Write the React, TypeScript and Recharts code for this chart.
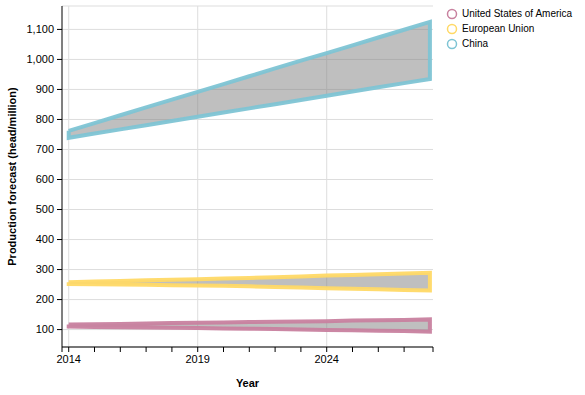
import {
  CartesianGrid,
  ComposedChart,
  Area,
  Scatter,
  XAxis,
  YAxis,
  Label,
} from "recharts";

const years = [2014, 2015, 2016, 2017, 2018, 2019, 2020, 2021, 2022, 2023, 2024, 2025, 2026, 2027, 2028];

const usaHigh = [117, 118, 119, 120, 122, 123, 124, 125, 126, 127, 128, 130, 131, 132, 134];
const usaLow = [110, 109, 108, 107, 106, 105, 104, 103, 102, 100, 99, 98, 96, 95, 93];
const euHigh = [258, 260, 262, 264, 266, 268, 270, 272, 274, 277, 280, 282, 284, 287, 289];
const euLow = [252, 251, 250, 249, 248, 247, 246, 244, 242, 240, 238, 236, 234, 232, 230];
const cnHigh = [762, 788, 814, 840, 866, 892, 918, 944, 970, 996, 1021, 1047, 1073, 1099, 1125];
const cnLow = [739, 753, 767, 781, 795, 809, 823, 837, 851, 865, 879, 893, 907, 921, 935];

const yTicks = [100, 200, 300, 400, 500, 600, 700, 800, 900, 1000, 1100];
const labelYears = [2014, 2019, 2024];

const FONT = "'Liberation Sans', Arial, sans-serif";

const countries = [
  { key: "usa", name: "United States of America", color: "#c8819f", low: usaLow, high: usaHigh },
  { key: "eu", name: "European Union", color: "#ffd966", low: euLow, high: euHigh },
  { key: "cn", name: "China", color: "#7ec4d4", low: cnLow, high: cnHigh },
];

const rows = years.map((year, i) => {
  const row: Record<string, number> = { year };
  countries.forEach((c) => {
    row[c.key + "Low"] = c.low[i];
    row[c.key + "High"] = c.high[i];
  });
  return row;
});

// closed outline: along the top, back along the bottom, then close
const outline = (low: number[], high: number[]) => {
  const top = years.map((year, i) => ({ year, v: high[i] }));
  const bottom = years.map((year, i) => ({ year, v: low[i] })).reverse();
  return [...top, ...bottom, top[0]];
};

const xDomain = [2013.74, 2028.12];
const xTicks = [xDomain[0], ...years.slice(0, 14), xDomain[1]];

const noDot = () => <g />;

export default function App() {
  return (
    <div style={{ position: "absolute", left: 0, top: 0, width: 585, height: 395, fontFamily: FONT }}>
      <ComposedChart
        width={585}
        height={395}
        data={rows}
        margin={{ top: 6, right: 152, bottom: 0, left: 0 }}
      >
        <CartesianGrid vertical={false} stroke="#dddddd" />
        <CartesianGrid horizontal={false} stroke="#dddddd" verticalValues={labelYears} />
        <XAxis
          dataKey="year"
          type="number"
          domain={xDomain}
          allowDataOverflow
          ticks={xTicks}
          interval={0}
          tickFormatter={(v: number) => (labelYears.includes(v) ? String(v) : "")}
          height={48}
          tickSize={5}
          tickMargin={3}
          stroke="#000"
          tick={{ fill: "#000", fontSize: 11, fontFamily: FONT }}
        >
          <Label
            value="Year"
            position="insideBottom"
            offset={8}
            style={{ fontWeight: "bold", fontSize: 11, fill: "#000", fontFamily: FONT }}
          />
        </XAxis>
        <YAxis
          type="number"
          domain={[42, 1178]}
          allowDataOverflow
          ticks={yTicks}
          interval={0}
          tickFormatter={(v: number) => v.toLocaleString("en-US")}
          width={62}
          tickSize={5}
          tickMargin={3}
          stroke="#000"
          tick={{ fill: "#000", fontSize: 11, fontFamily: FONT }}
        >
          <Label
            value="Production forecast (head/million)"
            angle={-90}
            position="insideLeft"
            offset={12}
            style={{ textAnchor: "middle", fontWeight: "bold", fontSize: 11, fill: "#000", fontFamily: FONT }}
          />
        </YAxis>
        {countries.map((c) => (
          <Area
            key={c.key + "-band"}
            type="linear"
            dataKey={(d: Record<string, number>) => [d[c.key + "Low"], d[c.key + "High"]]}
            stroke="none"
            fill="#808080"
            fillOpacity={0.5}
            isAnimationActive={false}
            legendType="none"
          />
        ))}
        {countries.map((c) => (
          <Scatter
            key={c.key + "-edge"}
            data={outline(c.low, c.high)}
            dataKey="v"
            fill="none"
            line={{ stroke: c.color, strokeWidth: 4, strokeOpacity: 0.95 }}
            shape={noDot}
            isAnimationActive={false}
            legendType="none"
          />
        ))}
      </ComposedChart>
      <div style={{ position: "absolute", left: 446, top: 6, fontSize: 10, color: "#000", lineHeight: "15px" }}>
        {countries.map((c) => (
          <div key={c.key} style={{ display: "flex", alignItems: "center", height: 15 }}>
            <svg width={12} height={12} style={{ marginRight: 4 }}>
              <circle cx={6} cy={6} r={4.5} fill="none" stroke={c.color} strokeWidth={1.5} />
            </svg>
            <span>{c.name}</span>
          </div>
        ))}
      </div>
    </div>
  );
}
